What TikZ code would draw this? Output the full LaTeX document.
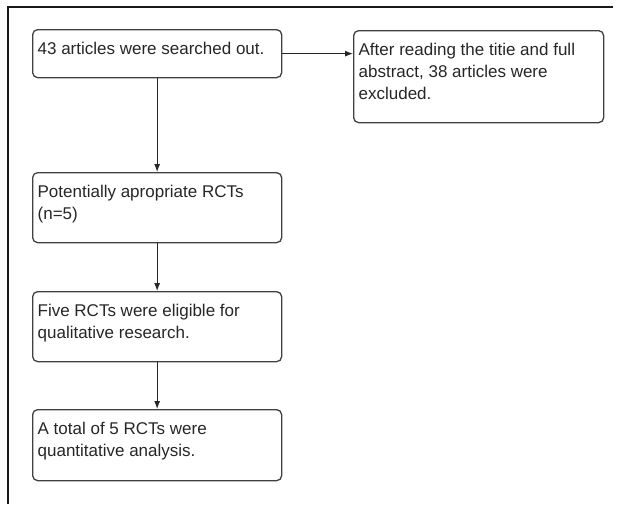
\documentclass[tikz,border=0pt]{standalone}
\usepackage{fontspec}
\setmainfont{Liberation Sans}
\usetikzlibrary{arrows.meta}
\newcommand{\boxtext}[3]{\parbox[t][#2][t]{#1}{\rule{0pt}{25pt}#3}}
\tikzset{
  flowbox/.style={draw=black!75, line width=1.3pt, rounded corners=5pt, anchor=north west,
    inner xsep=5pt, inner ysep=0pt, text=black!85,
    font=\fontsize{17pt}{22pt}\selectfont},
  flowarrow/.style={draw=black!85, line width=1pt, -{Latex[length=8pt,width=6pt]}},
  frameline/.style={draw=black!90, line width=2.4pt}
}
\begin{document}
\begin{tikzpicture}[x=1pt,y=-1pt]
\useasboundingbox (0,0) rectangle (618,504);
\coordinate (ftl) at (8,7);
\coordinate (ftr) at (613,7);
\coordinate (fbl) at (8,504);
\draw[frameline] (ftr) -- (ftl) -- (fbl);
\node[flowbox] (b1) at (32,29) {\boxtext{239pt}{48pt}{43 articles were searched out.}};
\node[flowbox] (b2) at (353,30) {\boxtext{240pt}{92pt}{After reading the titie and full\\ abstract, 38 articles were\\ excluded.}};
\node[flowbox] (b3) at (32,172) {\boxtext{239pt}{70pt}{Potentially apropriate RCTs\\ (n=5)}};
\node[flowbox] (b4) at (32,291) {\boxtext{239pt}{70pt}{Five RCTs were eligible for\\ qualitative research.}};
\node[flowbox] (b5) at (32,409) {\boxtext{239pt}{71pt}{A total of 5 RCTs were\\ quantitative analysis.}};
\draw[flowarrow] (b1.east) -- (b1.east -| b2.west);
\draw[flowarrow] (b1.south) -- (b3.north);
\draw[flowarrow] (b3.south) -- (b4.north);
\draw[flowarrow] (b4.south) -- (b5.north);
\end{tikzpicture}
\end{document}
